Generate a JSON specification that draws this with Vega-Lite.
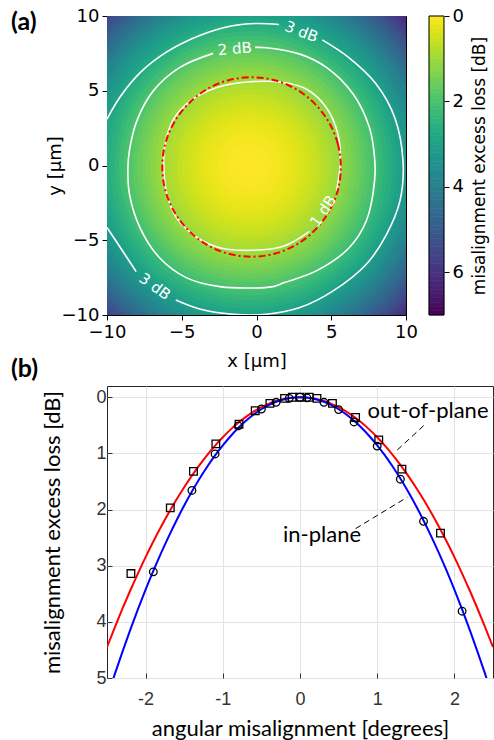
{
  "$schema": "https://vega.github.io/schema/vega-lite/v6.json",
  "background": "white",
  "padding": {"left": 10, "top": 6, "right": 0, "bottom": 0},
  "bounds": "flush",
  "spacing": 71,
  "datasets": {
    "rings": [
      {"r": 14.7, "v": 6.29}, {"r": 14.4, "v": 6.03}, {"r": 14.1, "v": 5.78}, {"r": 13.8, "v": 5.53},
      {"r": 13.5, "v": 5.29}, {"r": 13.2, "v": 5.06}, {"r": 12.9, "v": 4.83}, {"r": 12.6, "v": 4.60},
      {"r": 12.3, "v": 4.38}, {"r": 12.0, "v": 4.17}, {"r": 11.7, "v": 3.96}, {"r": 11.4, "v": 3.76},
      {"r": 11.1, "v": 3.56}, {"r": 10.8, "v": 3.37}, {"r": 10.5, "v": 3.18}, {"r": 10.2, "v": 3.00},
      {"r": 9.9, "v": 2.82}, {"r": 9.6, "v": 2.65}, {"r": 9.3, "v": 2.49}, {"r": 9.0, "v": 2.33},
      {"r": 8.7, "v": 2.17}, {"r": 8.4, "v": 2.02}, {"r": 8.1, "v": 1.88}, {"r": 7.8, "v": 1.74},
      {"r": 7.5, "v": 1.60}, {"r": 7.2, "v": 1.48}, {"r": 6.9, "v": 1.35}, {"r": 6.6, "v": 1.24},
      {"r": 6.3, "v": 1.12}, {"r": 6.0, "v": 1.02}, {"r": 5.7, "v": 0.91}, {"r": 5.4, "v": 0.82},
      {"r": 5.1, "v": 0.73}, {"r": 4.8, "v": 0.64}, {"r": 4.5, "v": 0.56}, {"r": 4.2, "v": 0.49},
      {"r": 3.9, "v": 0.42}, {"r": 3.6, "v": 0.35}, {"r": 3.3, "v": 0.29}, {"r": 3.0, "v": 0.24},
      {"r": 2.7, "v": 0.19}, {"r": 2.4, "v": 0.15}, {"r": 2.1, "v": 0.11}, {"r": 1.8, "v": 0.08},
      {"r": 1.5, "v": 0.05}, {"r": 1.2, "v": 0.03}, {"r": 0.9, "v": 0.02}, {"r": 0.6, "v": 0.01},
      {"r": 0.3, "v": 0.0}
    ],
    "cbar": [
      {"lo": 0.0, "hi": 0.1, "v": 0.05}, {"lo": 0.1, "hi": 0.2, "v": 0.15}, {"lo": 0.2, "hi": 0.3, "v": 0.25},
      {"lo": 0.3, "hi": 0.4, "v": 0.35}, {"lo": 0.4, "hi": 0.5, "v": 0.45}, {"lo": 0.5, "hi": 0.6, "v": 0.55},
      {"lo": 0.6, "hi": 0.7, "v": 0.65}, {"lo": 0.7, "hi": 0.8, "v": 0.75}, {"lo": 0.8, "hi": 0.9, "v": 0.85},
      {"lo": 0.9, "hi": 1.0, "v": 0.95}, {"lo": 1.0, "hi": 1.1, "v": 1.05}, {"lo": 1.1, "hi": 1.2, "v": 1.15},
      {"lo": 1.2, "hi": 1.3, "v": 1.25}, {"lo": 1.3, "hi": 1.4, "v": 1.35}, {"lo": 1.4, "hi": 1.5, "v": 1.45},
      {"lo": 1.5, "hi": 1.6, "v": 1.55}, {"lo": 1.6, "hi": 1.7, "v": 1.65}, {"lo": 1.7, "hi": 1.8, "v": 1.75},
      {"lo": 1.8, "hi": 1.9, "v": 1.85}, {"lo": 1.9, "hi": 2.0, "v": 1.95}, {"lo": 2.0, "hi": 2.1, "v": 2.05},
      {"lo": 2.1, "hi": 2.2, "v": 2.15}, {"lo": 2.2, "hi": 2.3, "v": 2.25}, {"lo": 2.3, "hi": 2.4, "v": 2.35},
      {"lo": 2.4, "hi": 2.5, "v": 2.45}, {"lo": 2.5, "hi": 2.6, "v": 2.55}, {"lo": 2.6, "hi": 2.7, "v": 2.65},
      {"lo": 2.7, "hi": 2.8, "v": 2.75}, {"lo": 2.8, "hi": 2.9, "v": 2.85}, {"lo": 2.9, "hi": 3.0, "v": 2.95},
      {"lo": 3.0, "hi": 3.1, "v": 3.05}, {"lo": 3.1, "hi": 3.2, "v": 3.15}, {"lo": 3.2, "hi": 3.3, "v": 3.25},
      {"lo": 3.3, "hi": 3.4, "v": 3.35}, {"lo": 3.4, "hi": 3.5, "v": 3.45}, {"lo": 3.5, "hi": 3.6, "v": 3.55},
      {"lo": 3.6, "hi": 3.7, "v": 3.65}, {"lo": 3.7, "hi": 3.8, "v": 3.75}, {"lo": 3.8, "hi": 3.9, "v": 3.85},
      {"lo": 3.9, "hi": 4.0, "v": 3.95}, {"lo": 4.0, "hi": 4.1, "v": 4.05}, {"lo": 4.1, "hi": 4.2, "v": 4.15},
      {"lo": 4.2, "hi": 4.3, "v": 4.25}, {"lo": 4.3, "hi": 4.4, "v": 4.35}, {"lo": 4.4, "hi": 4.5, "v": 4.45},
      {"lo": 4.5, "hi": 4.6, "v": 4.55}, {"lo": 4.6, "hi": 4.7, "v": 4.65}, {"lo": 4.7, "hi": 4.8, "v": 4.75},
      {"lo": 4.8, "hi": 4.9, "v": 4.85}, {"lo": 4.9, "hi": 5.0, "v": 4.95}, {"lo": 5.0, "hi": 5.1, "v": 5.05},
      {"lo": 5.1, "hi": 5.2, "v": 5.15}, {"lo": 5.2, "hi": 5.3, "v": 5.25}, {"lo": 5.3, "hi": 5.4, "v": 5.35},
      {"lo": 5.4, "hi": 5.5, "v": 5.45}, {"lo": 5.5, "hi": 5.6, "v": 5.55}, {"lo": 5.6, "hi": 5.7, "v": 5.65},
      {"lo": 5.7, "hi": 5.8, "v": 5.75}, {"lo": 5.8, "hi": 5.9, "v": 5.85}, {"lo": 5.9, "hi": 6.0, "v": 5.95},
      {"lo": 6.0, "hi": 6.1, "v": 6.05}, {"lo": 6.1, "hi": 6.2, "v": 6.15}, {"lo": 6.2, "hi": 6.3, "v": 6.25},
      {"lo": 6.3, "hi": 6.4, "v": 6.35}, {"lo": 6.4, "hi": 6.5, "v": 6.45}, {"lo": 6.5, "hi": 6.6, "v": 6.55},
      {"lo": 6.6, "hi": 6.7, "v": 6.65}, {"lo": 6.7, "hi": 6.8, "v": 6.75}, {"lo": 6.8, "hi": 6.9, "v": 6.85},
      {"lo": 6.9, "hi": 7.0, "v": 6.95}
    ],
    "contours": [
      {"seg": "3a", "i": 0, "x": -10.0, "y": 3.1}, {"seg": "3a", "i": 1, "x": -9.15, "y": 4.55},
      {"seg": "3a", "i": 2, "x": -7.8, "y": 6.2}, {"seg": "3a", "i": 3, "x": -6.0, "y": 7.6},
      {"seg": "3a", "i": 4, "x": -3.8, "y": 8.7}, {"seg": "3a", "i": 5, "x": -1.6, "y": 9.35},
      {"seg": "3a", "i": 6, "x": 0.0, "y": 9.5}, {"seg": "3a", "i": 7, "x": 1.5, "y": 9.43},
      {"seg": "3b", "i": 0, "x": 4.4, "y": 8.4}, {"seg": "3b", "i": 1, "x": 6.2, "y": 7.2},
      {"seg": "3b", "i": 2, "x": 8.0, "y": 5.45}, {"seg": "3b", "i": 3, "x": 9.25, "y": 3.2},
      {"seg": "3b", "i": 4, "x": 9.8, "y": 0.3}, {"seg": "3b", "i": 5, "x": 9.6, "y": -2.35},
      {"seg": "3b", "i": 6, "x": 8.7, "y": -4.6}, {"seg": "3b", "i": 7, "x": 7.35, "y": -6.6},
      {"seg": "3b", "i": 8, "x": 5.1, "y": -8.4}, {"seg": "3b", "i": 9, "x": 2.9, "y": -9.5},
      {"seg": "3b", "i": 10, "x": 0.66, "y": -9.95}, {"seg": "3b", "i": 11, "x": -1.57, "y": -9.95},
      {"seg": "3b", "i": 12, "x": -3.8, "y": -9.6}, {"seg": "3b", "i": 13, "x": -5.4, "y": -9.0},
      {"seg": "3c", "i": 0, "x": -8.05, "y": -7.1}, {"seg": "3c", "i": 1, "x": -8.9, "y": -5.8},
      {"seg": "3c", "i": 2, "x": -10.0, "y": -4.15},
      {"seg": "2", "i": 0, "x": -0.1, "y": 7.9}, {"seg": "2", "i": 1, "x": 0.66, "y": 7.88},
      {"seg": "2", "i": 2, "x": 2.9, "y": 7.45}, {"seg": "2", "i": 3, "x": 4.7, "y": 6.55},
      {"seg": "2", "i": 4, "x": 6.45, "y": 4.8}, {"seg": "2", "i": 5, "x": 7.55, "y": 2.55},
      {"seg": "2", "i": 6, "x": 7.9, "y": 0.5}, {"seg": "2", "i": 7, "x": 7.9, "y": -1.0},
      {"seg": "2", "i": 8, "x": 7.35, "y": -3.7}, {"seg": "2", "i": 9, "x": 6.2, "y": -5.5},
      {"seg": "2", "i": 10, "x": 4.0, "y": -7.05}, {"seg": "2", "i": 11, "x": 1.8, "y": -7.85},
      {"seg": "2", "i": 12, "x": 1.1, "y": -8.1}, {"seg": "2", "i": 13, "x": -2.45, "y": -8.1},
      {"seg": "2", "i": 14, "x": -4.7, "y": -7.5}, {"seg": "2", "i": 15, "x": -6.5, "y": -6.15},
      {"seg": "2", "i": 16, "x": -7.8, "y": -4.15}, {"seg": "2", "i": 17, "x": -8.5, "y": -1.9},
      {"seg": "2", "i": 18, "x": -8.6, "y": -0.13}, {"seg": "2", "i": 19, "x": -8.5, "y": 1.0},
      {"seg": "2", "i": 20, "x": -8.0, "y": 3.0}, {"seg": "2", "i": 21, "x": -6.9, "y": 5.0},
      {"seg": "2", "i": 22, "x": -5.15, "y": 6.55}, {"seg": "2", "i": 23, "x": -2.9, "y": 7.5},
      {"seg": "1", "i": 0, "x": 5.35, "y": -1.7}, {"seg": "1", "i": 1, "x": 5.6, "y": 0.1},
      {"seg": "1", "i": 2, "x": 5.45, "y": 2.1}, {"seg": "1", "i": 3, "x": 4.65, "y": 3.9},
      {"seg": "1", "i": 4, "x": 3.35, "y": 5.1}, {"seg": "1", "i": 5, "x": 1.8, "y": 5.55},
      {"seg": "1", "i": 6, "x": -0.45, "y": 5.6}, {"seg": "1", "i": 7, "x": -2.7, "y": 5.2},
      {"seg": "1", "i": 8, "x": -4.45, "y": 4.3}, {"seg": "1", "i": 9, "x": -5.6, "y": 3.0},
      {"seg": "1", "i": 10, "x": -6.15, "y": 1.2}, {"seg": "1", "i": 11, "x": -6.2, "y": -0.13},
      {"seg": "1", "i": 12, "x": -6.0, "y": -1.9}, {"seg": "1", "i": 13, "x": -5.35, "y": -3.5},
      {"seg": "1", "i": 14, "x": -4.0, "y": -4.8}, {"seg": "1", "i": 15, "x": -2.45, "y": -5.5},
      {"seg": "1", "i": 16, "x": -0.25, "y": -5.67}, {"seg": "1", "i": 17, "x": 1.8, "y": -5.4},
      {"seg": "1", "i": 18, "x": 3.55, "y": -4.4}
    ],
    "redcircle": [
      {"i": 0, "x": 5.64, "y": -0.1}, {"i": 1, "x": 5.44, "y": 1.45}, {"i": 2, "x": 4.84, "y": 2.9},
      {"i": 3, "x": 3.89, "y": 4.14}, {"i": 4, "x": 2.66, "y": 5.1}, {"i": 5, "x": 1.22, "y": 5.7},
      {"i": 6, "x": -0.33, "y": 5.9}, {"i": 7, "x": -1.88, "y": 5.7}, {"i": 8, "x": -3.32, "y": 5.1},
      {"i": 9, "x": -4.55, "y": 4.14}, {"i": 10, "x": -5.5, "y": 2.9}, {"i": 11, "x": -6.1, "y": 1.45},
      {"i": 12, "x": -6.3, "y": -0.1}, {"i": 13, "x": -6.1, "y": -1.65}, {"i": 14, "x": -5.5, "y": -3.1},
      {"i": 15, "x": -4.55, "y": -4.34}, {"i": 16, "x": -3.32, "y": -5.3}, {"i": 17, "x": -1.88, "y": -5.9},
      {"i": 18, "x": -0.33, "y": -6.1}, {"i": 19, "x": 1.22, "y": -5.9}, {"i": 20, "x": 2.66, "y": -5.3},
      {"i": 21, "x": 3.89, "y": -4.34}, {"i": 22, "x": 4.84, "y": -3.1}, {"i": 23, "x": 5.44, "y": -1.65}
    ],
    "clabels": [
      {"id": 1, "t": "3 dB", "x": 3.0, "y": 8.95},
      {"id": 2, "t": "3 dB", "x": -6.8, "y": -8.1},
      {"id": 3, "t": "2 dB", "x": -1.45, "y": 7.8},
      {"id": 4, "t": "1 dB", "x": 4.45, "y": -3.05}
    ],
    "fits": [
      {"s": "out-of-plane", "a": -2.5, "loss": 4.45}, {"s": "out-of-plane", "a": -2.4, "loss": 4.1011},
      {"s": "out-of-plane", "a": -2.3, "loss": 3.7665}, {"s": "out-of-plane", "a": -2.2, "loss": 3.4461},
      {"s": "out-of-plane", "a": -2.1, "loss": 3.1399}, {"s": "out-of-plane", "a": -2.0, "loss": 2.848},
      {"s": "out-of-plane", "a": -1.9, "loss": 2.5703}, {"s": "out-of-plane", "a": -1.8, "loss": 2.3069},
      {"s": "out-of-plane", "a": -1.7, "loss": 2.0577}, {"s": "out-of-plane", "a": -1.6, "loss": 1.8227},
      {"s": "out-of-plane", "a": -1.5, "loss": 1.602}, {"s": "out-of-plane", "a": -1.4, "loss": 1.3955},
      {"s": "out-of-plane", "a": -1.3, "loss": 1.2033}, {"s": "out-of-plane", "a": -1.2, "loss": 1.0253},
      {"s": "out-of-plane", "a": -1.1, "loss": 0.8615}, {"s": "out-of-plane", "a": -1.0, "loss": 0.712},
      {"s": "out-of-plane", "a": -0.9, "loss": 0.5767}, {"s": "out-of-plane", "a": -0.8, "loss": 0.4557},
      {"s": "out-of-plane", "a": -0.7, "loss": 0.3489}, {"s": "out-of-plane", "a": -0.6, "loss": 0.2563},
      {"s": "out-of-plane", "a": -0.5, "loss": 0.178}, {"s": "out-of-plane", "a": -0.4, "loss": 0.1139},
      {"s": "out-of-plane", "a": -0.3, "loss": 0.0641}, {"s": "out-of-plane", "a": -0.2, "loss": 0.0285},
      {"s": "out-of-plane", "a": -0.1, "loss": 0.0071}, {"s": "out-of-plane", "a": 0.0, "loss": 0.0},
      {"s": "out-of-plane", "a": 0.1, "loss": 0.0071}, {"s": "out-of-plane", "a": 0.2, "loss": 0.0285},
      {"s": "out-of-plane", "a": 0.3, "loss": 0.0641}, {"s": "out-of-plane", "a": 0.4, "loss": 0.1139},
      {"s": "out-of-plane", "a": 0.5, "loss": 0.178}, {"s": "out-of-plane", "a": 0.6, "loss": 0.2563},
      {"s": "out-of-plane", "a": 0.7, "loss": 0.3489}, {"s": "out-of-plane", "a": 0.8, "loss": 0.4557},
      {"s": "out-of-plane", "a": 0.9, "loss": 0.5767}, {"s": "out-of-plane", "a": 1.0, "loss": 0.712},
      {"s": "out-of-plane", "a": 1.1, "loss": 0.8615}, {"s": "out-of-plane", "a": 1.2, "loss": 1.0253},
      {"s": "out-of-plane", "a": 1.3, "loss": 1.2033}, {"s": "out-of-plane", "a": 1.4, "loss": 1.3955},
      {"s": "out-of-plane", "a": 1.5, "loss": 1.602}, {"s": "out-of-plane", "a": 1.6, "loss": 1.8227},
      {"s": "out-of-plane", "a": 1.7, "loss": 2.0577}, {"s": "out-of-plane", "a": 1.8, "loss": 2.3069},
      {"s": "out-of-plane", "a": 1.9, "loss": 2.5703}, {"s": "out-of-plane", "a": 2.0, "loss": 2.848},
      {"s": "out-of-plane", "a": 2.1, "loss": 3.1399}, {"s": "out-of-plane", "a": 2.2, "loss": 3.4461},
      {"s": "out-of-plane", "a": 2.3, "loss": 3.7665}, {"s": "out-of-plane", "a": 2.4, "loss": 4.1011},
      {"s": "out-of-plane", "a": 2.5, "loss": 4.45},
      {"s": "in-plane", "a": -2.5, "loss": 5.356}, {"s": "in-plane", "a": -2.4, "loss": 4.9363},
      {"s": "in-plane", "a": -2.3, "loss": 4.5335}, {"s": "in-plane", "a": -2.2, "loss": 4.1479},
      {"s": "in-plane", "a": -2.1, "loss": 3.7794}, {"s": "in-plane", "a": -2.0, "loss": 3.428},
      {"s": "in-plane", "a": -1.9, "loss": 3.0938}, {"s": "in-plane", "a": -1.8, "loss": 2.7767},
      {"s": "in-plane", "a": -1.7, "loss": 2.4767}, {"s": "in-plane", "a": -1.6, "loss": 2.1939},
      {"s": "in-plane", "a": -1.5, "loss": 1.9283}, {"s": "in-plane", "a": -1.4, "loss": 1.6797},
      {"s": "in-plane", "a": -1.3, "loss": 1.4483}, {"s": "in-plane", "a": -1.2, "loss": 1.2341},
      {"s": "in-plane", "a": -1.1, "loss": 1.037}, {"s": "in-plane", "a": -1.0, "loss": 0.857},
      {"s": "in-plane", "a": -0.9, "loss": 0.6942}, {"s": "in-plane", "a": -0.8, "loss": 0.5485},
      {"s": "in-plane", "a": -0.7, "loss": 0.4199}, {"s": "in-plane", "a": -0.6, "loss": 0.3085},
      {"s": "in-plane", "a": -0.5, "loss": 0.2143}, {"s": "in-plane", "a": -0.4, "loss": 0.1371},
      {"s": "in-plane", "a": -0.3, "loss": 0.0771}, {"s": "in-plane", "a": -0.2, "loss": 0.0343},
      {"s": "in-plane", "a": -0.1, "loss": 0.0086}, {"s": "in-plane", "a": 0.0, "loss": 0.0},
      {"s": "in-plane", "a": 0.1, "loss": 0.0086}, {"s": "in-plane", "a": 0.2, "loss": 0.0343},
      {"s": "in-plane", "a": 0.3, "loss": 0.0771}, {"s": "in-plane", "a": 0.4, "loss": 0.1371},
      {"s": "in-plane", "a": 0.5, "loss": 0.2143}, {"s": "in-plane", "a": 0.6, "loss": 0.3085},
      {"s": "in-plane", "a": 0.7, "loss": 0.4199}, {"s": "in-plane", "a": 0.8, "loss": 0.5485},
      {"s": "in-plane", "a": 0.9, "loss": 0.6942}, {"s": "in-plane", "a": 1.0, "loss": 0.857},
      {"s": "in-plane", "a": 1.1, "loss": 1.037}, {"s": "in-plane", "a": 1.2, "loss": 1.2341},
      {"s": "in-plane", "a": 1.3, "loss": 1.4483}, {"s": "in-plane", "a": 1.4, "loss": 1.6797},
      {"s": "in-plane", "a": 1.5, "loss": 1.9283}, {"s": "in-plane", "a": 1.6, "loss": 2.1939},
      {"s": "in-plane", "a": 1.7, "loss": 2.4767}, {"s": "in-plane", "a": 1.8, "loss": 2.7767},
      {"s": "in-plane", "a": 1.9, "loss": 3.0938}, {"s": "in-plane", "a": 2.0, "loss": 3.428},
      {"s": "in-plane", "a": 2.1, "loss": 3.7794}, {"s": "in-plane", "a": 2.2, "loss": 4.1479},
      {"s": "in-plane", "a": 2.3, "loss": 4.5335}, {"s": "in-plane", "a": 2.4, "loss": 4.9363},
      {"s": "in-plane", "a": 2.5, "loss": 5.356}
    ],
    "meas": [
      {"s": "out-of-plane", "a": -2.19, "loss": 3.14}, {"s": "out-of-plane", "a": -1.68, "loss": 1.97},
      {"s": "out-of-plane", "a": -1.38, "loss": 1.32}, {"s": "out-of-plane", "a": -1.09, "loss": 0.83},
      {"s": "out-of-plane", "a": -0.79, "loss": 0.48}, {"s": "out-of-plane", "a": -0.58, "loss": 0.24},
      {"s": "out-of-plane", "a": -0.39, "loss": 0.11}, {"s": "out-of-plane", "a": -0.2, "loss": 0.02},
      {"s": "out-of-plane", "a": -0.1, "loss": 0.0}, {"s": "out-of-plane", "a": 0.0, "loss": 0.0},
      {"s": "out-of-plane", "a": 0.12, "loss": 0.0}, {"s": "out-of-plane", "a": 0.22, "loss": 0.02},
      {"s": "out-of-plane", "a": 0.42, "loss": 0.11}, {"s": "out-of-plane", "a": 0.72, "loss": 0.36},
      {"s": "out-of-plane", "a": 1.02, "loss": 0.76}, {"s": "out-of-plane", "a": 1.32, "loss": 1.28},
      {"s": "out-of-plane", "a": 1.82, "loss": 2.42},
      {"s": "in-plane", "a": -1.9, "loss": 3.11}, {"s": "in-plane", "a": -1.4, "loss": 1.66},
      {"s": "in-plane", "a": -1.1, "loss": 1.01}, {"s": "in-plane", "a": -0.8, "loss": 0.51},
      {"s": "in-plane", "a": -0.5, "loss": 0.21}, {"s": "in-plane", "a": -0.31, "loss": 0.09},
      {"s": "in-plane", "a": -0.14, "loss": 0.02}, {"s": "in-plane", "a": 0.0, "loss": 0.0},
      {"s": "in-plane", "a": 0.09, "loss": 0.01}, {"s": "in-plane", "a": 0.31, "loss": 0.09},
      {"s": "in-plane", "a": 0.5, "loss": 0.22}, {"s": "in-plane", "a": 0.7, "loss": 0.44},
      {"s": "in-plane", "a": 1.0, "loss": 0.87}, {"s": "in-plane", "a": 1.3, "loss": 1.46},
      {"s": "in-plane", "a": 1.6, "loss": 2.21}, {"s": "in-plane", "a": 2.1, "loss": 3.81}
    ],
    "leaders": [
      {"x": 1.26, "y": 0.94, "x2": 1.63, "y2": 0.47},
      {"x": 0.72, "y": 2.34, "x2": 1.39, "y2": 1.78}
    ],
    "notes": [
      {"t": "out-of-plane", "x": 0.875, "y": 0.25},
      {"t": "in-plane", "x": -0.22, "y": 2.45}
    ]
  },
  "vconcat": [
    {
      "width": 299,
      "height": 299,
      "title": {"text": "(a)", "anchor": "start", "frame": "group", "font": "Lato", "fontSize": 25, "fontWeight": "bold", "color": "#000", "dx": -96, "dy": 28, "offset": 0},
      "view": {"stroke": "#000", "strokeWidth": 1},
      "resolve": {"scale": {"y": "independent"}, "axis": {"y": "independent"}},
      "layer": [
        {
          "layer": [
            {
              "data": {"name": "rings"},
              "mark": {"type": "point", "shape": "circle", "filled": true, "opacity": 1, "strokeWidth": 0, "clip": true},
              "encoding": {
                "x": {"datum": -0.5, "type": "quantitative",
                  "scale": {"domain": [-10, 10], "nice": false, "zero": false},
                  "axis": {"title": "x [µm]", "values": [-10, -5, 0, 5, 10], "labelFont": "DejaVu Sans", "labelFontSize": 18, "labelColor": "#000", "titleFont": "DejaVu Sans", "titleFontSize": 18, "titleFontWeight": "normal", "titleColor": "#000", "tickSize": 5, "tickColor": "#000", "labelPadding": 3, "titlePadding": 11, "domain": false, "grid": false, "labelFlush": false, "labelOverlap": false}},
                "y": {"datum": 0, "type": "quantitative",
                  "scale": {"domain": [-10, 10], "nice": false, "zero": false},
                  "axis": {"orient": "left", "title": "y [µm]", "values": [-10, -5, 0, 5, 10], "labelFont": "DejaVu Sans", "labelFontSize": 18, "labelColor": "#000", "titleFont": "DejaVu Sans", "titleFontSize": 18, "titleFontWeight": "normal", "titleColor": "#000", "tickSize": 5, "tickColor": "#000", "labelPadding": 3, "titlePadding": -3, "domain": false, "grid": false, "labelFlush": false, "labelOverlap": false}},
                "size": {"field": "r", "type": "quantitative", "scale": {"type": "pow", "exponent": 2, "domain": [0, 15], "range": [0, 201152]}, "legend": null},
                "color": {"field": "v", "type": "quantitative", "scale": {"scheme": "viridis", "domain": [7, 0]}, "legend": null},
                "order": {"field": "r", "type": "quantitative", "sort": "descending"}
              }
            },
            {
              "data": {"name": "contours"},
              "mark": {"type": "line", "color": "#ffffff", "strokeWidth": 1.6, "interpolate": "catmull-rom", "clip": true},
              "encoding": {
                "x": {"field": "x", "type": "quantitative"},
                "y": {"field": "y", "type": "quantitative"},
                "detail": {"field": "seg", "type": "nominal"},
                "order": {"field": "i", "type": "quantitative"}
              }
            },
            {
              "data": {"name": "redcircle"},
              "mark": {"type": "line", "color": "#ff0000", "strokeWidth": 2, "strokeDash": [7, 3, 2, 3], "interpolate": "cardinal-closed", "clip": true},
              "encoding": {
                "x": {"field": "x", "type": "quantitative"},
                "y": {"field": "y", "type": "quantitative"},
                "order": {"field": "i", "type": "quantitative"}
              }
            },
            {
              "data": {"name": "clabels"},
              "transform": [{"filter": "datum.id == 1"}],
              "mark": {"type": "text", "angle": 21, "color": "#ffffff", "font": "DejaVu Sans", "fontSize": 15, "align": "center", "baseline": "middle"},
              "encoding": {"x": {"field": "x", "type": "quantitative"}, "y": {"field": "y", "type": "quantitative"}, "text": {"field": "t"}}
            },
            {
              "data": {"name": "clabels"},
              "transform": [{"filter": "datum.id == 2"}],
              "mark": {"type": "text", "angle": 36, "color": "#ffffff", "font": "DejaVu Sans", "fontSize": 15, "align": "center", "baseline": "middle"},
              "encoding": {"x": {"field": "x", "type": "quantitative"}, "y": {"field": "y", "type": "quantitative"}, "text": {"field": "t"}}
            },
            {
              "data": {"name": "clabels"},
              "transform": [{"filter": "datum.id == 3"}],
              "mark": {"type": "text", "angle": 355, "color": "#ffffff", "font": "DejaVu Sans", "fontSize": 15, "align": "center", "baseline": "middle"},
              "encoding": {"x": {"field": "x", "type": "quantitative"}, "y": {"field": "y", "type": "quantitative"}, "text": {"field": "t"}}
            },
            {
              "data": {"name": "clabels"},
              "transform": [{"filter": "datum.id == 4"}],
              "mark": {"type": "text", "angle": 304, "color": "#ffffff", "font": "DejaVu Sans", "fontSize": 15, "align": "center", "baseline": "middle"},
              "encoding": {"x": {"field": "x", "type": "quantitative"}, "y": {"field": "y", "type": "quantitative"}, "text": {"field": "t"}}
            }
          ]
        },
        {
          "layer": [
            {
              "data": {"name": "cbar"},
              "mark": {"type": "rect", "strokeWidth": 0.6},
              "encoding": {
                "x": {"datum": 11.54, "type": "quantitative"},
                "x2": {"datum": 12.54},
                "y": {"field": "lo", "type": "quantitative",
                  "scale": {"domain": [0, 7], "nice": false, "zero": false, "reverse": true},
                  "axis": {"orient": "right", "offset": 38, "title": "misalignment excess loss [dB]", "values": [0, 2, 4, 6], "labelFont": "DejaVu Sans", "labelFontSize": 18, "labelColor": "#000", "titleFont": "DejaVu Sans", "titleFontSize": 17, "titleFontWeight": "normal", "titleColor": "#000", "titleAngle": 270, "titlePadding": 25, "tickSize": 5, "tickColor": "#000", "labelPadding": 3, "domain": false, "grid": false, "labelFlush": false, "labelOverlap": false}},
                "y2": {"field": "hi"},
                "color": {"field": "v", "type": "quantitative", "scale": {"scheme": "viridis", "domain": [7, 0]}, "legend": null},
                "stroke": {"field": "v", "type": "quantitative", "scale": {"scheme": "viridis", "domain": [7, 0]}, "legend": null}
              }
            },
            {
              "data": {"name": "cbar"},
              "mark": {"type": "rect", "fillOpacity": 0, "stroke": "#000000", "strokeWidth": 1},
              "encoding": {
                "x": {"datum": 11.54, "type": "quantitative"},
                "x2": {"datum": 12.54},
                "y": {"aggregate": "min", "field": "lo", "type": "quantitative"},
                "y2": {"aggregate": "max", "field": "hi"}
              }
            }
          ]
        }
      ]
    },
    {
      "width": 386,
      "height": 292,
      "title": {"text": "(b)", "anchor": "start", "frame": "group", "font": "Lato", "fontSize": 25, "fontWeight": "bold", "color": "#000", "dx": -96, "dy": -4, "offset": 0},
      "view": {"stroke": "#262626", "strokeWidth": 1},
      "layer": [
        {
          "data": {"name": "fits"},
          "mark": {"type": "line", "strokeWidth": 2, "clip": true, "interpolate": "monotone"},
          "encoding": {
            "x": {"field": "a", "type": "quantitative",
              "scale": {"domain": [-2.5, 2.5], "nice": false, "zero": false},
              "axis": {"title": "angular misalignment [degrees]", "values": [-2, -1, 0, 1, 2], "format": "d", "labelExpr": "replace(datum.label, '−', '-')", "labelFont": "Liberation Sans", "labelFontSize": 18, "labelColor": "#333333", "titleFont": "Lato", "titleFontSize": 22, "titleFontWeight": "normal", "titleColor": "#000", "grid": true, "gridColor": "#e3e3e3", "domain": false, "ticks": true, "tickSize": -5, "tickColor": "#333333", "labelPadding": 17, "titlePadding": 10, "labelFlush": false, "labelOverlap": false}},
            "y": {"field": "loss", "type": "quantitative",
              "scale": {"domain": [-0.2, 5], "nice": false, "zero": false, "reverse": true},
              "axis": {"title": "misalignment excess loss [dB]", "values": [0, 1, 2, 3, 4, 5], "format": "d", "labelFont": "Liberation Sans", "labelFontSize": 18, "labelColor": "#333333", "titleFont": "Lato", "titleFontSize": 22, "titleFontWeight": "normal", "titleColor": "#000", "grid": true, "gridColor": "#e3e3e3", "domain": false, "ticks": true, "tickSize": -5, "tickColor": "#333333", "labelPadding": 6, "titlePadding": 31, "labelFlush": false, "labelOverlap": false}},
            "color": {"field": "s", "type": "nominal", "scale": {"domain": ["out-of-plane", "in-plane"], "range": ["#ff0000", "#0000ff"]}, "legend": null}
          }
        },
        {
          "data": {"name": "meas"},
          "mark": {"type": "point", "filled": false, "color": "#000000", "strokeWidth": 1.3, "opacity": 1, "size": 58},
          "encoding": {
            "x": {"field": "a", "type": "quantitative"},
            "y": {"field": "loss", "type": "quantitative"},
            "shape": {"field": "s", "type": "nominal", "scale": {"domain": ["out-of-plane", "in-plane"], "range": ["square", "circle"]}, "legend": null}
          }
        },
        {
          "data": {"name": "leaders"},
          "mark": {"type": "rule", "color": "#000000", "strokeWidth": 1, "strokeDash": [6, 4]},
          "encoding": {
            "x": {"field": "x", "type": "quantitative"},
            "y": {"field": "y", "type": "quantitative"},
            "x2": {"field": "x2"},
            "y2": {"field": "y2"}
          }
        },
        {
          "data": {"name": "notes"},
          "mark": {"type": "text", "font": "Lato", "fontSize": 22, "color": "#000000", "align": "left", "baseline": "middle"},
          "encoding": {
            "x": {"field": "x", "type": "quantitative"},
            "y": {"field": "y", "type": "quantitative"},
            "text": {"field": "t"}
          }
        }
      ]
    }
  ]
}
